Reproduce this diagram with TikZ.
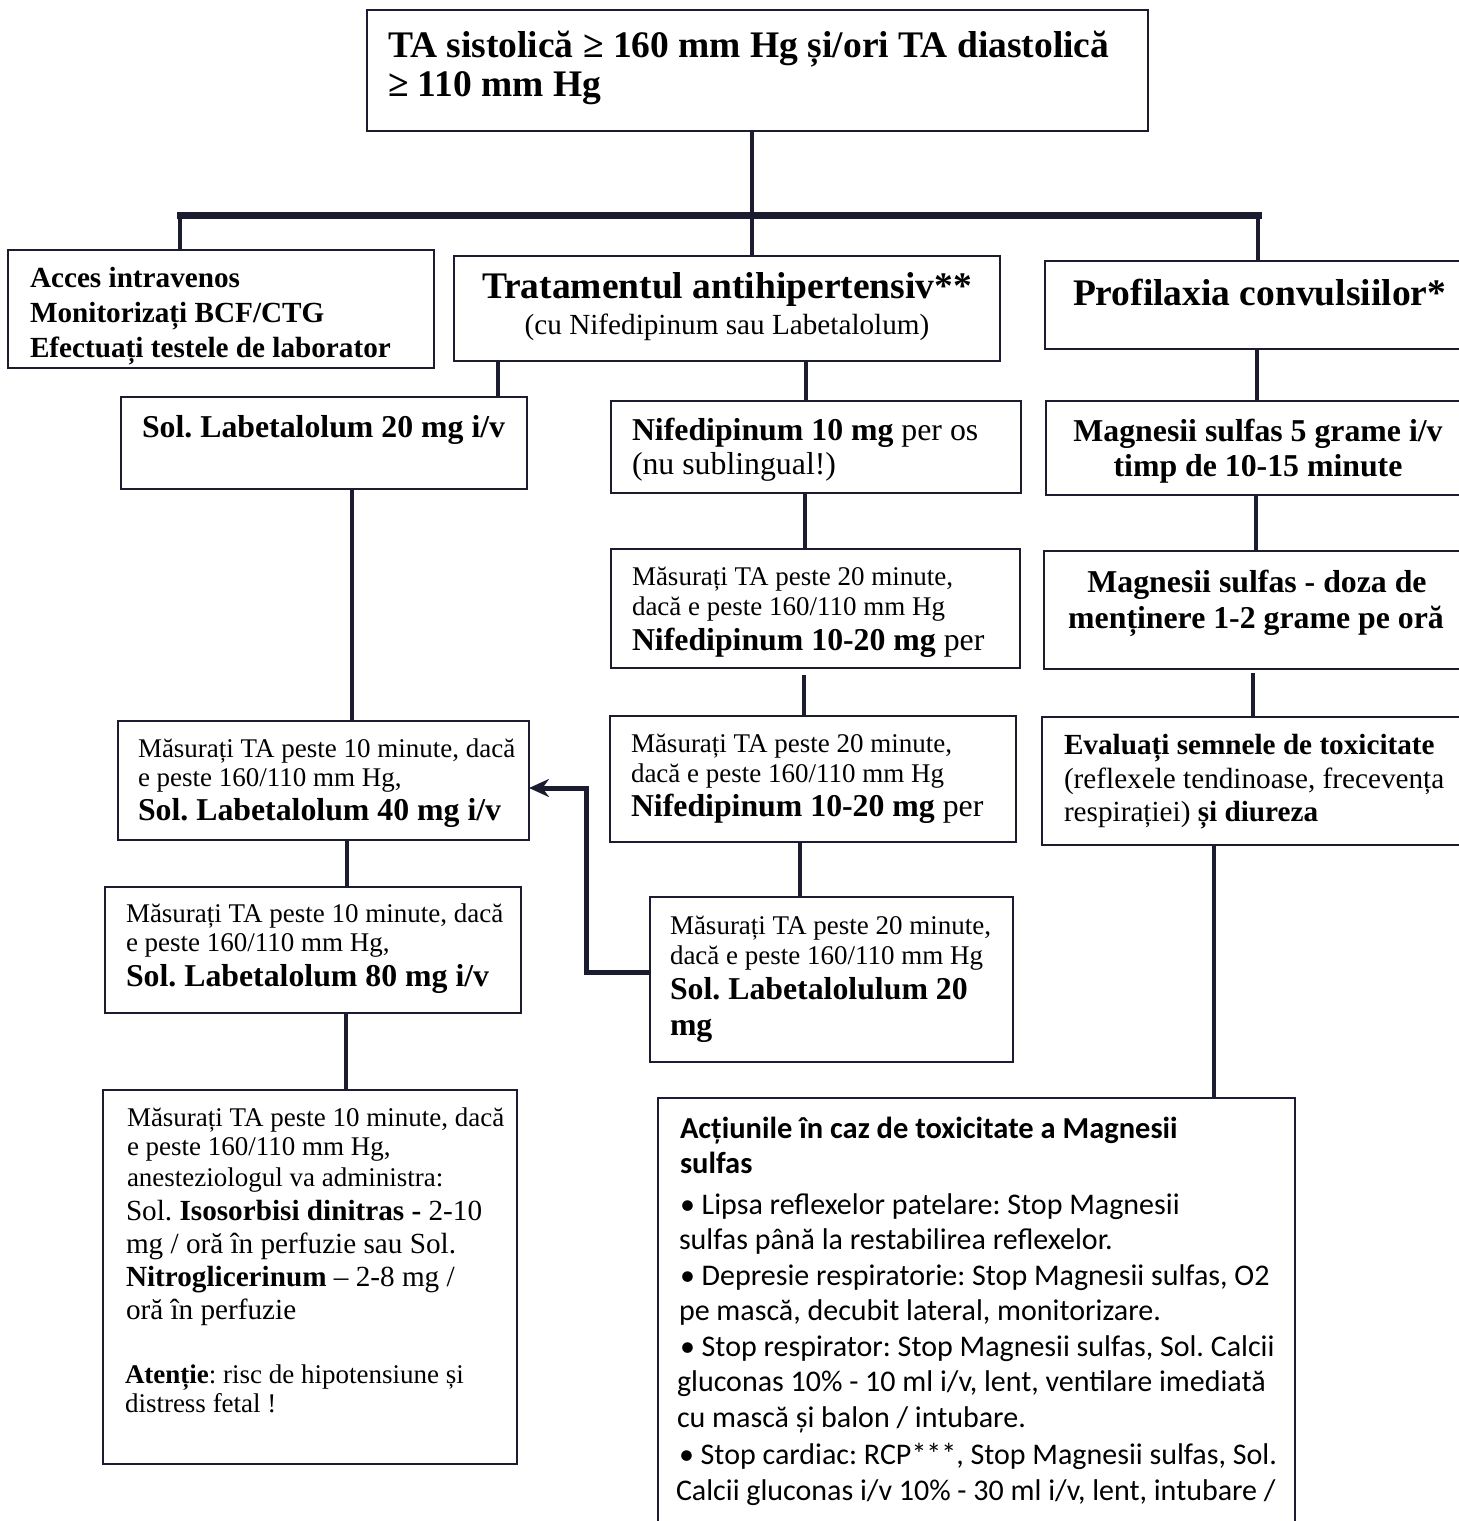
\documentclass[tikz,border=0pt]{standalone}
\usepackage{fontspec}
\setmainfont{Liberation Serif}
\newfontfamily\calibfont{Carlito}
\usetikzlibrary{arrows.meta}
\definecolor{ink}{RGB}{28,28,48}
\frenchspacing
\begin{document}
\begin{tikzpicture}[x=1pt,y=-1pt,
 box/.style={draw=ink,line width=2pt,anchor=north west,inner sep=0pt,outer sep=0pt},
 conn/.style={draw=ink,line width=4pt},
 barline/.style={draw=ink,line width=7pt,line cap=rect},
 tx/.style={anchor=base west,inner sep=0pt,outer sep=0pt},
 tc/.style={anchor=base,inner sep=0pt,outer sep=0pt},
 fh/.style={font=\fontsize{37.5}{40}\selectfont\bfseries},
 fm/.style={font=\fontsize{31.8}{35}\selectfont\bfseries},
 fa/.style={font=\fontsize{29.2}{33}\selectfont\bfseries},
 far/.style={font=\fontsize{29.2}{33}\selectfont},
 fs/.style={font=\fontsize{27}{30}\selectfont},
 fc/.style={font=\calibfont\fontsize{30}{35}\selectfont},
 fcb/.style={font=\calibfont\fontsize{30.5}{35}\selectfont\bfseries},
]
\useasboundingbox (0,0) rectangle (1459,1521);
\clip (0,0) rectangle (1459,1521);

% boxes
\node[box,minimum width=781pt,minimum height=121pt] (top) at (367,10) {};
\node[box,minimum width=426pt,minimum height=118pt] (acc) at (8,250) {};
\node[box,minimum width=546pt,minimum height=105pt] (trt) at (454,256) {};
\node[box,minimum width=430pt,minimum height=88pt] (pro) at (1045,261) {};
\node[box,minimum width=406pt,minimum height=92pt] (lab20) at (121,397) {};
\node[box,minimum width=410pt,minimum height=92pt] (nif1) at (611,401) {};
\node[box,minimum width=429pt,minimum height=94pt] (mg1) at (1046,401) {};
\node[box,minimum width=409pt,minimum height=119pt] (nif2) at (611,549) {};
\node[box,minimum width=431pt,minimum height=118pt] (mg2) at (1044,551) {};
\node[box,minimum width=411pt,minimum height=119pt] (lab40) at (118,721) {};
\node[box,minimum width=406pt,minimum height=126pt] (nif3) at (610,716) {};
\node[box,minimum width=433pt,minimum height=128pt] (eva) at (1042,717) {};
\node[box,minimum width=416pt,minimum height=126pt] (lab80) at (105,887) {};
\node[box,minimum width=363pt,minimum height=165pt] (labl) at (650,897) {};
\node[box,minimum width=414pt,minimum height=374pt] (iso) at (103,1090) {};
\node[box,minimum width=637pt,minimum height=462pt] (act) at (658,1098) {};

% texts
\node[tx,fh] at (388,57) {TA sistolică ≥ 160 mm Hg și/ori TA diastolică};
\node[tx,fh] at (388,96) {≥ 110 mm Hg};

\node[tx,fa] at (30,287) {Acces intravenos};
\node[tx,fa] at (30,322) {Monitorizați BCF/CTG};
\node[tx,fa] at (30,357) {Efectuați testele de laborator};

\node[tc,fh] at (727,298) {Tratamentul antihipertensiv**};
\node[tc,far] at (727,334) {(cu Nifedipinum sau Labetalolum)};

\node[tx,fh] at (1073,305) {Profilaxia convulsiilor*};

\node[tx,fm] at (142,437) {Sol. Labetalolum 20 mg i/v};

\node[tx,fm] at (632,440) {Nifedipinum 10 mg \textmd{per os}};
\node[tx,fm] at (632,474) {\mdseries (nu sublingual!)};

\node[tc,fm] at (1258,441) {Magnesii sulfas 5 grame i/v};
\node[tc,fm] at (1258,476) {timp de 10-15 minute};

\node[tx,fs] at (632,585) {Măsurați TA peste 20 minute,};
\node[tx,fs] at (632,615) {dacă e peste 160/110 mm Hg};
\node[tx,fm] at (632,650) {Nifedipinum 10-20 mg \textmd{per}};

\node[tc,fm] at (1257,592) {Magnesii sulfas - doza de};
\node[tc,fm] at (1256,628) {menținere 1-2 grame pe oră};

\node[tx,fs] at (138,757) {Măsurați TA peste 10 minute, dacă};
\node[tx,fs] at (138,786) {e peste 160/110 mm Hg,};
\node[tx,fm] at (138,820) {Sol. Labetalolum 40 mg i/v};

\node[tx,fs] at (631,752) {Măsurați TA peste 20 minute,};
\node[tx,fs] at (631,782) {dacă e peste 160/110 mm Hg};
\node[tx,fm] at (631,816) {Nifedipinum 10-20 mg \textmd{per}};

\node[tx,fa] at (1064,754) {Evaluați semnele de toxicitate};
\node[tx,far] at (1064,788) {(reflexele tendinoase, frecevența};
\node[tx,far] at (1064,821) {respirației) \textbf{și diureza}};

\node[tx,fs] at (126,922) {Măsurați TA peste 10 minute, dacă};
\node[tx,fs] at (126,951) {e peste 160/110 mm Hg,};
\node[tx,fm] at (126,986) {Sol. Labetalolum 80 mg i/v};

\node[tx,fs] at (670,934) {Măsurați TA peste 20 minute,};
\node[tx,fs] at (670,964) {dacă e peste 160/110 mm Hg};
\node[tx,fm] at (670,999) {Sol. Labetalolulum 20};
\node[tx,fm] at (670,1035) {mg};

\node[tx,fs] at (127,1126) {Măsurați TA peste 10 minute, dacă};
\node[tx,fs] at (127,1155) {e peste 160/110 mm Hg,};
\node[tx,fs] at (127,1186) {anesteziologul va administra:};
\node[tx,far] at (126,1220) {Sol. \textbf{Isosorbisi dinitras -} 2-10};
\node[tx,far] at (126,1253) {mg / oră în perfuzie sau Sol.};
\node[tx,far] at (126,1286) {\textbf{Nitroglicerinum} – 2-8 mg /};
\node[tx,far] at (126,1319) {oră în perfuzie};
\node[tx,fs] at (125,1383) {\textbf{Atenție}: risc de hipotensiune și};
\node[tx,fs] at (125,1412) {distress fetal !};

\node[tx,fcb] at (680,1138) {Acțiunile în caz de toxicitate a Magnesii};
\node[tx,fcb] at (680,1173) {sulfas};
\node[tx,fc] at (680,1214) {• Lipsa reflexelor patelare: Stop Magnesii};
\node[tx,fc] at (679,1249) {sulfas până la restabilirea reflexelor.};
\node[tx,fc] at (680,1285) {• Depresie respiratorie: Stop Magnesii sulfas, O2};
\node[tx,fc] at (679,1320) {pe mască, decubit lateral, monitorizare.};
\node[tx,fc] at (680,1356) {• Stop respirator: Stop Magnesii sulfas, Sol. Calcii};
\node[tx,fc] at (677,1391) {gluconas 10\% - 10 ml i/v, lent, ventilare imediată};
\node[tx,fc] at (677,1427) {cu mască și balon / intubare.};
\node[tx,fc] at (679,1464) {• Stop cardiac: RCP***, Stop Magnesii sulfas, Sol.};
\node[tx,fc] at (676,1500) {Calcii gluconas i/v 10\% - 30 ml i/v, lent, intubare /};

% connectors
\coordinate (bl) at (180,215);
\coordinate (bm) at (752,215);
\coordinate (br) at (1258,215);
\draw[conn] (top.south -| bm) -- (bm);
\draw[barline] (bl) -- (br);
\draw[conn] (bl) -- (bl |- acc.north);
\draw[conn] (bm) -- (bm |- trt.north);
\draw[conn] (br) -- (br |- pro.north);

\draw[conn] (498,0 |- trt.south) -- (498,0 |- lab20.north);
\draw[conn] (806,0 |- trt.south) -- (806,0 |- nif1.north);
\draw[conn] (1257,0 |- pro.south) -- (1257,0 |- mg1.north);
\draw[conn] (352,0 |- lab20.south) -- (352,0 |- lab40.north);
\draw[conn] (805,0 |- nif1.south) -- (805,0 |- nif2.north);
\draw[conn] (1256,0 |- mg1.south) -- (1256,0 |- mg2.north);
\draw[conn] (804,675) -- (804,0 |- nif3.north);
\draw[conn] (1253,673) -- (1253,0 |- eva.north);
\draw[conn] (347,0 |- lab40.south) -- (347,0 |- lab80.north);
\draw[conn] (800,0 |- nif3.south) -- (800,0 |- labl.north);
\draw[conn] (1214,0 |- eva.south) -- (1214,0 |- act.north);
\draw[conn] (346,0 |- lab80.south) -- (346,0 |- iso.north);

\draw[draw=ink,line width=5pt,-{Stealth[length=20pt,width=18pt]}]
  ([yshift=7pt]labl.west) -| (586,788) -- (lab40.east |- 586,788);
\end{tikzpicture}
\end{document}
